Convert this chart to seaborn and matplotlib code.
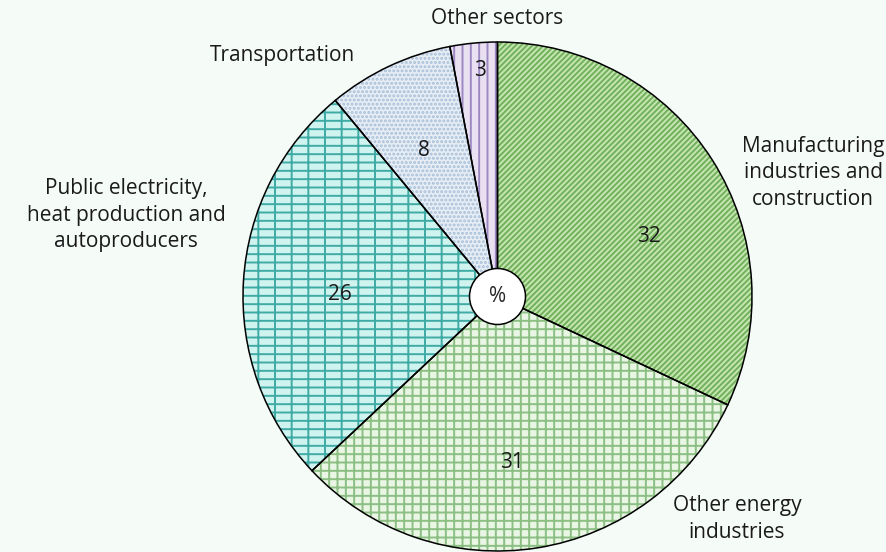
import numpy as np
import matplotlib
matplotlib.use("Agg")
import matplotlib.pyplot as plt
import seaborn as sns
from matplotlib.patches import Circle

sectors = ["Manufacturing\nindustries and\nconstruction",
           "Other energy\nindustries",
           "Public electricity,\nheat production and\nautoproducers",
           "Transportation",
           "Other sectors"]
shares = [32, 31, 26, 8, 3]

face_cols = ["#c4e6b0", "#e8f6e3", "#cff3ef", "#e6edf5", "#e9e0f2"]
hatch_cols = ["#72b05c", "#8cbf84", "#40aaa4", "#a7bfd8", "#9c88c2"]
hatches = ["//////", "++", "-|-", "....", "||"]

# where the texts sit (pixel positions in the reference, center of pie = 497.5, 296.5)
name_px = [(813, 173), (737, 519), (126, 215), (283, 55), (497, 18)]
num_px = [(649, 237), (512, 462), (340, 295), (424, 150), (480, 70)]

sns.set_theme(style="white")
plt.rcParams['font.family'] = ['Open Sans', 'DejaVu Sans']
plt.rcParams['hatch.linewidth'] = 1.4
bg = "#f5fbf7"

fig = plt.figure(figsize=(8.86, 5.52), dpi=100, facecolor=bg)
ax = fig.add_axes([0, 0, 1, 1])
ax.set_facecolor(bg)

R = 254.5
cx, cy = 497.5, 296.5
def to_data(p):
    return (p[0] - cx) / R, (cy - p[1]) / R

# filled + hatched wedges
wedges, _ = ax.pie(shares, startangle=90, counterclock=False, radius=1,
                   colors=face_cols, wedgeprops=dict(linewidth=0))
for w, h, hc in zip(wedges, hatches, hatch_cols):
    w.set_hatch(h)
    try:
        w.set_hatchcolor(hc)
    except AttributeError:
        w.set_edgecolor(hc)

# black outlines on top
ax.pie(shares, startangle=90, counterclock=False, radius=1,
       wedgeprops=dict(fill=False, edgecolor="black", linewidth=1.1))

ax.add_patch(Circle((0, 0), 0.11, facecolor="white", edgecolor="black", lw=1.1, zorder=5))
ax.text(0, 0, "%", ha="center", va="center", fontsize=15, zorder=6)

for name, val, npos, vpos in zip(sectors, shares, name_px, num_px):
    x, y = to_data(npos)
    ax.text(x, y, name, ha="center", va="center", fontsize=15,
            linespacing=1.35, color="#1a1a1a")
    x, y = to_data(vpos)
    ax.text(x, y, str(val), ha="center", va="center", fontsize=15, color="#1a1a1a")

ax.set_xlim(-cx / R, (886 - cx) / R)
ax.set_ylim(-(552 - cy) / R, cy / R)
ax.set_aspect("auto")
ax.axis("off")

fig.savefig("out.png", dpi=100, facecolor=bg)
